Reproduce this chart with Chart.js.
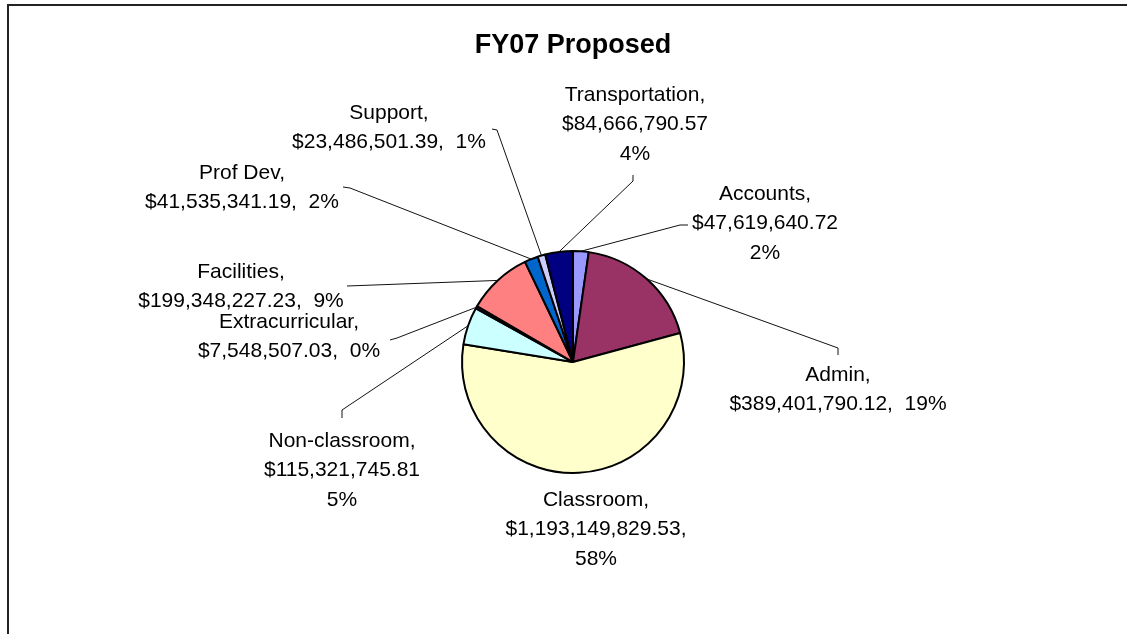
<!DOCTYPE html>
<html>
<head>
<meta charset="utf-8">
<title>FY07 Proposed</title>
<script src="https://cdn.jsdelivr.net/npm/chart.js@4"></script>
<style>
  html, body { margin: 0; padding: 0; background: #fff; }
  #grafica { display: block; }
</style>
</head>
<body>
<canvas id="grafica" width="1127" height="634"></canvas>
<script>
// Categories (clockwise from 12 o'clock)
const categories = ['Accounts', 'Admin', 'Classroom', 'Non-classroom', 'Extracurricular', 'Facilities', 'Prof Dev', 'Support', 'Transportation'];

// Amounts in dollars
const imports = [47619640.72, 389401790.12, 1193149829.53, 115321745.81, 7548507.03, 199348227.23, 41535341.19, 23486501.39, 84666790.57];

// Percent labels as printed on the chart
const percentatges = ['2%', '19%', '58%', '5%', '0%', '9%', '2%', '1%', '4%'];

// Slice colours (old Excel palette)
const colors = ['#9999FF', '#993366', '#FFFFCC', '#CCFFFF', '#660066', '#FF8080', '#0066CC', '#CCCCFF', '#000080'];

// Label placement, relative to the pie centre: centre x, first line y, line layout, leader points
const etiquetes = [
    { dx: 192, dy: -168, format: 'tres', leader: [[115, -137], [107, -137]] },
    { dx: 265, dy: 13, format: 'dues', leader: [[265, -7], [265, -14]] },
    { dx: 23, dy: 138, format: 'tresComa', leader: [] },
    { dx: -231, dy: 79, format: 'tres', leader: [[-231, 56], [-231, 48]] },
    { dx: -284, dy: -40, format: 'dues', leader: [[-183, -22], [-176, -24]] },
    { dx: -332, dy: -90, format: 'dues', leader: [[-226, -76]] },
    { dx: -331, dy: -189, format: 'dues', leader: [[-230, -175], [-223, -174]] },
    { dx: -184, dy: -249, format: 'dues', leader: [[-81, -233], [-76, -232]] },
    { dx: 62, dy: -267, format: 'tres', leader: [[60, -187], [60, -181]] }
];

const FONT = '"Liberation Sans", Arial, sans-serif';
const LINE_H = 29.5;

// Format a number as $1,234.56
function diners(v) {
    const parts = v.toFixed(2).split('.');
    parts[0] = parts[0].replace(/\B(?=(\d{3})+(?!\d))/g, ',');
    return '$' + parts.join('.');
}

// Build the text lines of one label
function liniesEtiqueta(i) {
    const nom = categories[i] + ',';
    const valor = diners(imports[i]);
    const pct = percentatges[i];
    const f = etiquetes[i].format;
    if (f === 'dues') return [nom, valor + ',  ' + pct];
    if (f === 'tresComa') return [nom, valor + ',', pct];
    return [nom, valor, pct];
}

// Frame around the chart
const marc = {
    id: 'marc',
    beforeDraw(chart) {
        const ctx = chart.ctx;
        ctx.save();
        ctx.strokeStyle = '#222';
        ctx.lineWidth = 2;
        ctx.strokeRect(8, 5, 1300, 800);
        ctx.restore();
    }
};

// Outside labels with leader lines
const etiquetesFora = {
    id: 'etiquetesFora',
    afterDatasetsDraw(chart) {
        const ctx = chart.ctx;
        const meta = chart.getDatasetMeta(0);
        ctx.save();
        meta.data.forEach((arc, i) => {
            const p = arc.getProps(['x', 'y', 'startAngle', 'endAngle', 'outerRadius'], true);
            const mig = (p.startAngle + p.endAngle) / 2;
            const ex = p.x + Math.cos(mig) * p.outerRadius;
            const ey = p.y + Math.sin(mig) * p.outerRadius;
            const e = etiquetes[i];

            // leader line
            if (e.leader.length) {
                ctx.beginPath();
                ctx.strokeStyle = '#111';
                ctx.lineWidth = 1;
                ctx.moveTo(p.x + e.leader[0][0], p.y + e.leader[0][1]);
                for (let k = 1; k < e.leader.length; k++) {
                    ctx.lineTo(p.x + e.leader[k][0], p.y + e.leader[k][1]);
                }
                ctx.lineTo(ex, ey);
                ctx.stroke();
            }

            // text
            ctx.fillStyle = '#000';
            ctx.font = '21px ' + FONT;
            ctx.textAlign = 'center';
            ctx.textBaseline = 'middle';
            liniesEtiqueta(i).forEach((linia, k) => {
                ctx.fillText(linia, p.x + e.dx, p.y + e.dy + k * LINE_H);
            });
        });
        ctx.restore();
    }
};

// Create the pie
function crearGrafica() {
    const ctx = document.getElementById('grafica').getContext('2d');
    new Chart(ctx, {
        type: 'pie',
        data: {
            labels: categories,
            datasets: [{
                data: imports,
                backgroundColor: colors,
                borderColor: '#000',
                borderWidth: 2,
                radius: 111
            }]
        },
        options: {
            responsive: false,
            animation: false,
            devicePixelRatio: 1,
            events: [],
            layout: { padding: { left: 19, right: 0, top: 0, bottom: 1.4 } },
            plugins: {
                legend: { display: false },
                tooltip: { enabled: false },
                title: {
                    display: true,
                    text: 'FY07 Proposed',
                    color: '#000',
                    font: { family: FONT, size: 27, weight: 'bold' },
                    padding: { top: 29, bottom: 30 }
                }
            }
        },
        plugins: [marc, etiquetesFora]
    });
}

crearGrafica();
</script>
</body>
</html>
